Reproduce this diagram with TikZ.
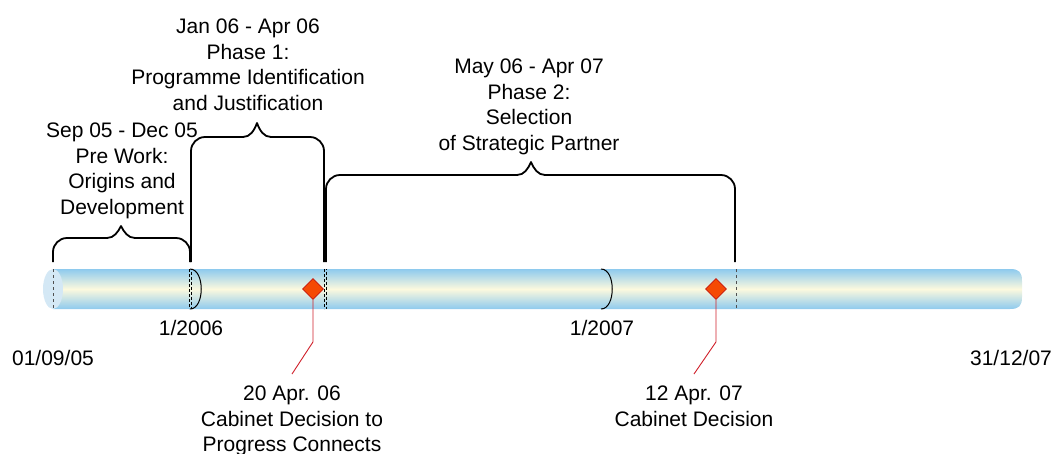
\documentclass[tikz,border=0pt]{standalone}
\usepackage{fontspec}
\setmainfont{Liberation Sans}
\usetikzlibrary{shapes.geometric}

\definecolor{barblue}{RGB}{142,202,238}
\definecolor{barcream}{RGB}{252,249,222}
\definecolor{capblue}{RGB}{212,232,245}
\definecolor{mileorange}{RGB}{245,74,4}
\definecolor{milered}{RGB}{196,22,14}
\definecolor{leadred}{RGB}{208,32,42}
\definecolor{tickgray}{RGB}{80,80,80}

\tikzset{
  txt/.style={font=\fontsize{21}{25.8}\selectfont, inner sep=0pt, align=center},
  phasebrace/.style={draw=black, line width=1.8pt, line join=round},
  boundary/.style={draw=black, line width=1pt, dash pattern=on 3pt off 2pt},
  cutline/.style={draw=tickgray, line width=1pt, dash pattern=on 3pt off 3pt},
  yeartick/.style={draw=black, line width=1pt},
  milestone/.style={shape=diamond, minimum size=21pt, inner sep=0pt,
    fill=mileorange, draw=milered, line width=0.8pt},
  leader/.style={draw=leadred, line width=0.9pt},
}

\begin{document}
\begin{tikzpicture}[x=1pt, y=-1pt]
\useasboundingbox (0,0) rectangle (1051,453);

% timeline bar
\path[shading=axis, top color=barblue, bottom color=barblue, middle color=barcream]
  (53,269) -- (1010,269) .. controls (1019,269) and (1022,272) .. (1022,281)
  -- (1022,297) .. controls (1022,306) and (1019,309) .. (1010,309)
  -- (53,309) -- cycle;
\fill[capblue] (53,289) ellipse [x radius=10pt, y radius=20pt];
\draw[cutline] (53,269) -- (53,309);

% phase boundaries
\draw[boundary] (189.5,269) -- (189.5,309);
\draw[boundary, dash phase=2.5pt] (191,269) -- (191,309);
\draw[boundary] (324.5,269) -- (324.5,309);
\draw[boundary, dash phase=2.5pt] (326,269) -- (326,309);
\draw[cutline] (736,269) -- (736,309);

% year ticks
\draw[yeartick] (190,269) .. controls (205,269) and (205,309) .. (190,309);
\draw[yeartick] (601,269) .. controls (616,269) and (616,309) .. (601,309);

% phase braces (corner radius 14, pointed tip)
\draw[phasebrace] (53,262) -- (53,252) .. controls (53,244.3) and (59.3,238) .. (67,238)
  -- (107,238) .. controls (114,238) and (118,232) .. (121,226)
  .. controls (124,232) and (128,238) .. (135,238)
  -- (176,238) .. controls (183.7,238) and (190,244.3) .. (190,252) -- (190,262);
\draw[phasebrace] (191,262) -- (191,151) .. controls (191,143.3) and (197.3,137) .. (205,137)
  -- (243,137) .. controls (250,137) and (254,131) .. (257,123)
  .. controls (260,131) and (264,137) .. (271,137)
  -- (310,137) .. controls (317.7,137) and (324,143.3) .. (324,151) -- (324,262);
\draw[phasebrace] (326,262) -- (326,189) .. controls (326,181.3) and (332.3,175) .. (340,175)
  -- (517,175) .. controls (524,175) and (528,169) .. (531,162)
  .. controls (534,169) and (538,175) .. (545,175)
  -- (721,175) .. controls (728.7,175) and (735,181.3) .. (735,189) -- (735,262);

% phase labels
\node[txt, anchor=north] (prework) at (122,119)
  {\strut Sep 05 - Dec 05\\\strut Pre Work:\\\strut Origins and\\\strut Development};
\node[txt, anchor=north] (phase1) at (248,15)
  {\strut Jan 06 - Apr 06\\\strut Phase 1:\\\strut Programme Identification\\\strut and Justification};
\node[txt, anchor=north] (phase2) at (529,55)
  {\strut May 06 - Apr 07\\\strut Phase 2:\\\strut Selection\\\strut of Strategic Partner};

% axis labels
\node[txt, anchor=base] (y2006) at (191,335) {1/2006};
\node[txt, anchor=base] (y2007) at (602,335) {1/2007};
\node[txt, anchor=base] (tstart) at (53,365) {01/09/05};
\node[txt, anchor=base] (tend) at (1011,365) {31/12/07};

% milestones
\node[milestone] (m1) at (313,289) {};
\node[milestone] (m2) at (716,289) {};
\node[txt, anchor=north] (m1text) at (292,382)
  {\strut 20 Apr. 06\\\strut Cabinet Decision to\\\strut Progress Connects};
\node[txt, anchor=north] (m2text) at (694,382)
  {\strut 12 Apr. 07\\\strut Cabinet Decision};
\draw[leader] (m1.south) -- ++(0,42) -- ([yshift=8pt]m1text.north);
\draw[leader] (m2.south) -- ++(0,42) -- ([yshift=8pt]m2text.north);
\end{tikzpicture}
\end{document}
